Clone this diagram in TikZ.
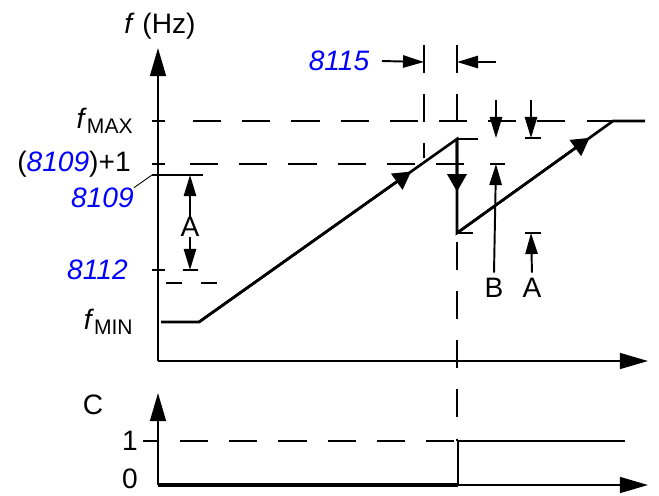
\documentclass[tikz,border=0pt]{standalone}
\usepackage{fontspec}
\setmainfont{Liberation Sans}
\usetikzlibrary{arrows.meta, calc}
\tikzset{
    axis/.style={line width=1.2pt, -{Triangle[length=16pt, width=9pt]}},
    curve/.style={line width=1.5pt, line join=miter},
    flowtip/.style={line width=1.5pt, -{Triangle[length=10pt, width=11pt]}},
    dimarrow/.style={line width=1.1pt, -{Triangle[length=12pt, width=7pt]}},
    tickmark/.style={line width=1.1pt},
    guide/.style={line width=1.1pt, dash pattern=on 16pt off 12pt},
    lbl/.style={font=\fontsize{16}{19}\selectfont, inner sep=0pt},
    dimlbl/.style={lbl, inner sep=3pt},
    param/.style={lbl, text=blue, font=\fontsize{16}{19}\selectfont\itshape}
}
\newcommand{\fsub}[1]{\textit{f}\raisebox{-2.8pt}{\fontsize{12}{14}\selectfont #1}}

\begin{document}
\begin{tikzpicture}[x=0.02cm, y=-0.02cm]
    \useasboundingbox (0,0) rectangle (659,495);

    % axes
    \coordinate (o1) at (158,361);
    \coordinate (ytop1) at (158,48);
    \coordinate (xend1) at (648,361);
    \coordinate (o2) at (158,485);
    \coordinate (ytop2) at (158,393);
    \coordinate (xend2) at (648,485);
    \draw[axis] (o1) -- (ytop1);
    \draw[axis] (o1) -- (xend1);
    \draw[axis] (o2) -- (ytop2);
    \draw[axis] (o2) -- (xend2);

    % labels
    \node[lbl] (fhz) at (160,26) {\textit{f} (Hz)};
    \node[lbl, anchor=east] (fmaxlbl) at (133,121) {\fsub{MAX}};
    \node[lbl, anchor=east] (plusone) at (131,164) {(\textcolor{blue}{\textit{8109}})+1};
    \node[param, anchor=east] (p8109) at (134,198) {8109};
    \node[param, anchor=east] (p8112) at (128,270) {8112};
    \node[lbl, anchor=east] (fminlbl) at (133,322) {\fsub{MIN}};
    \node[param] (p8115) at (339,61) {8115};
    \node[lbl] (alft) at (190,227) {A};
    \node[dimlbl] (bdim) at (494,288) {B};
    \node[dimlbl] (argt) at (532,288) {A};
    \node[lbl] (clbl) at (93,405) {C};
    \node[lbl] (one) at (130,441) {1};
    \node[lbl] (zero) at (130,479) {0};

    % levels and guides
    \coordinate (lev8109) at (152,175);
    \coordinate (fmin0) at (161,322);
    \coordinate (fmin1) at (199,322);
    \coordinate (peak) at (457,139);
    \coordinate (drop) at (457,233);
    \coordinate (fmax0) at (613,121);
    \coordinate (fmax1) at (645,121);
    \foreach \y in {121,164,270}
        \draw[tickmark] (152,\y) -- (165,\y);
    \draw[tickmark] (lev8109) -- (203,175);
    \draw[line width=0.5pt] (p8109.north east) -- (lev8109);
    \draw[guide] (193,121) -- (fmax0);
    \draw[guide] (190,164) -- (468,164);
    \draw[line width=1.1pt, dash pattern=on 9pt off 11pt] (166,283) -- (218,283);
    \draw[guide] (424,45) -- (424,158);
    \draw[guide] (457,45) -- (457,441);
    \draw[tickmark] (143,441) -- (158,441);
    \draw[guide] (180,441) -- (457,441);

    % frequency curve
    \draw[curve] (fmin0) -- (fmin1) -- (peak) -- (drop) -- (fmax0) -- (fmax1);
    \draw[flowtip] (fmin1) -- ($(fmin1)!0.822!(peak)$);
    \draw[flowtip] (peak) -- ($(peak)!0.56!(drop)$);
    \draw[flowtip] (drop) -- ($(drop)!0.85!(fmax0)$);

    % C signal
    \coordinate (cstep) at (458,485);
    \draw[line width=2.6pt] (o2) -- (cstep);
    \draw[curve] (cstep) -- (458,441) -- (625,441);

    % dimension marks
    \draw[tickmark] (183,270) -- (198,270);
    \draw[dimarrow] (alft.north) -- (190,175);
    \draw[dimarrow] (alft.south) -- (190,270);

    \draw[dimarrow] ([xshift=7pt]p8115.east) -- (424,62);
    \draw[dimarrow] (496,62) -- (457,62);

    \draw[tickmark] (peak) -- (478,139);
    \draw[tickmark] (drop) -- (473,233);
    \draw[tickmark] (490,164) -- (505,164);
    \draw[dimarrow] (496,100) -- (496,138);
    \draw[dimarrow] (bdim.north) -- (496,164);

    \draw[tickmark] (525,138) -- (541,138);
    \draw[tickmark] (525,233) -- (541,233);
    \draw[dimarrow] (531,100) -- (531,138);
    \draw[dimarrow] (argt.north) -- (531,233);
\end{tikzpicture}
\end{document}
